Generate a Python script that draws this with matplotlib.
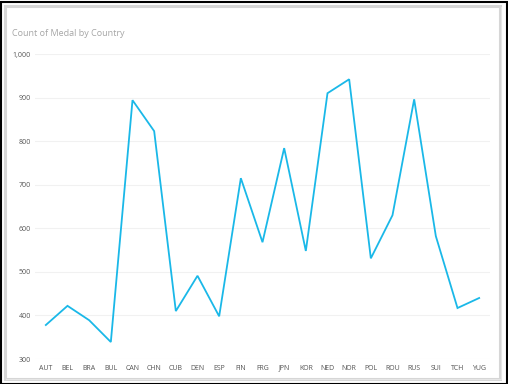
import matplotlib.pyplot as plt
from matplotlib.patches import Rectangle

countries = ['AUT', 'BEL', 'BRA', 'BUL', 'CAN', 'CHN', 'CUB', 'DEN', 'ESP', 'FIN', 'FRG',
             'JPN', 'KOR', 'NED', 'NOR', 'POL', 'ROU', 'RUS', 'SUI', 'TCH', 'YUG']
medals = [378, 422, 389, 339, 894, 823, 410, 491, 398, 715, 568,
          784, 548, 910, 942, 531, 630, 896, 582, 417, 440]
yticks = [300, 400, 500, 600, 700, 800, 900, 1000]
ytick_labels = ['300', '400', '500', '600', '700', '800', '900', '1,000']

plt.rcParams['font.family'] = ['Open Sans', 'DejaVu Sans']

fig = plt.figure(figsize=(5.08, 3.84), dpi=100)
W, H = 508, 384

# outer frame: black border, light gray card outline with shadow
fig.add_artist(Rectangle((0.5 / W, 0.5 / H), 1 - 2 / W, 1 - 2 / H, transform=fig.transFigure,
                         fill=False, edgecolor='black', linewidth=1.5))
fig.add_artist(Rectangle((4.5 / W, 5.5 / H), 495 / W, 373 / H, transform=fig.transFigure,
                         fill=False, edgecolor='#d6d6d6', linewidth=2.2))
fig.add_artist(Rectangle((6 / W, 4 / H), 496 / W, 1.5 / H, transform=fig.transFigure,
                         color='#e6e6e6', linewidth=0))
fig.add_artist(Rectangle((500.5 / W, 4 / H), 1.5 / W, 373 / H, transform=fig.transFigure,
                         color='#e6e6e6', linewidth=0))

ax = fig.add_axes([35 / W, 25 / H, 455 / W, 305 / H])
x = range(len(countries))
ax.plot(x, medals, color='#1ab8e8', linewidth=1.3, solid_joinstyle='miter')

ax.set_xlim(-0.5, len(countries) - 0.5)
ax.set_ylim(300, 1000)
ax.set_xticks(list(x))
ax.set_xticklabels(countries)
ax.set_yticks(yticks)
ax.set_yticklabels(ytick_labels)
ax.tick_params(axis='both', length=0, labelsize=5, labelcolor='#555555')
ax.tick_params(axis='x', pad=4)
ax.tick_params(axis='y', pad=3)
for s in ax.spines.values():
    s.set_visible(False)
ax.grid(axis='y', color='#f1f1f1', linewidth=0.8)
ax.set_axisbelow(True)

fig.text(12 / W, 1 - 33 / H, 'Count of Medal by Country', fontsize=6.5, color='#a6a6a6',
         va='center', ha='left')

plt.savefig('out.png', dpi=100)
